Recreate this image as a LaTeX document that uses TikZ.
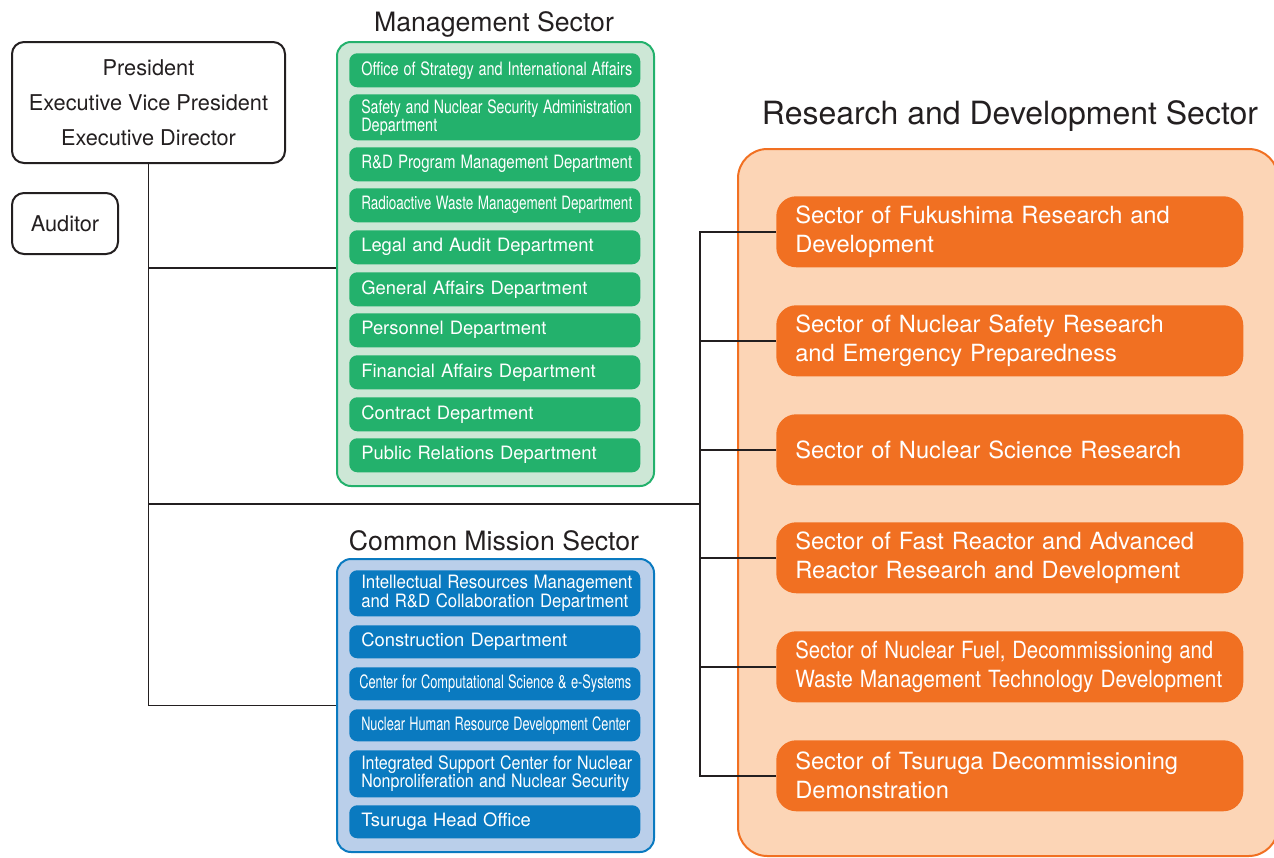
\documentclass[tikz,border=0pt]{standalone}
\usepackage{fontspec}
\setmainfont{TeX Gyre Heros}
\usepackage{graphicx}
\newlength\fitdim
\newcommand\fitw[2]{\setlength\fitdim{#1pt}\setlength\fitdim{0.75\fitdim}\makebox[0pt][l]{\resizebox{\fitdim}{\height}{#2}}}
\definecolor{mgreen}{RGB}{35,177,108}
\definecolor{mgreenbg}{RGB}{205,231,214}
\definecolor{mblue}{RGB}{10,122,192}
\definecolor{mbluebg}{RGB}{186,207,234}
\definecolor{morange}{RGB}{241,112,34}
\definecolor{morangebg}{RGB}{252,213,182}
\definecolor{ink}{RGB}{35,31,32}
\tikzset{
  conn/.style={draw=ink, line width=1.4pt},
  sector/.style={anchor=north west, line width=1.5pt, inner sep=0pt},
  title/.style={anchor=base, text=ink, font=\fontsize{20}{24}\selectfont},
  execbox/.style={anchor=north west, draw=ink, line width=1.5pt, rounded corners=9pt, inner sep=0pt, align=center, text=ink},
  inner/.style={anchor=north west, rounded corners=6pt, text=white, inner xsep=9pt, inner ysep=0pt,
    text width=200.25pt, align=left, font=\fontsize{13.8}{14}\selectfont},
  gbox/.style={inner, fill=mgreen},
  bbox/.style={inner, fill=mblue},
  obox/.style={anchor=north west, fill=morange, rounded corners=15pt, text=white, inner xsep=14.25pt, inner ysep=0pt,
    text width=321.75pt, minimum height=53.25pt, align=left, font=\fontsize{17.75}{21.75}\selectfont},
}
\begin{document}
\begin{tikzpicture}[x=0.75pt,y=-0.75pt]
\useasboundingbox (0,0) rectangle (1274,857);

% sector frames
\node[sector, draw=mgreen, fill=mgreenbg, rounded corners=10.5pt, minimum width=237.75pt, minimum height=333pt] (mgmt) at (336,41) {};
\node[sector, draw=mblue, fill=mbluebg, rounded corners=10.5pt, minimum width=237.75pt, minimum height=219.75pt] (cms) at (336,558) {};
\node[sector, draw=morange, fill=morangebg, rounded corners=22pt, minimum width=405pt, minimum height=530.25pt] (rd) at (737,148) {};

% titles
\node[title] (mgmtT) at (494,31) {Management Sector};
\node[title] (cmsT) at (494,550) {Common Mission Sector};
\node[title, font=\fontsize{24}{28}\selectfont] (rdT) at (1010,124) {Research and Development Sector};

% executives
\node[execbox, minimum width=204.75pt, minimum height=90.75pt, font=\fontsize{16.3}{26.25}\selectfont] (pres) at (11,41)
  {President\\Executive Vice President\\Executive Director};
\node[execbox, minimum width=79.5pt, minimum height=45.75pt, font=\fontsize{16.3}{20}\selectfont] (aud) at (11,192) {Auditor};

% management departments
\node[gbox, minimum height=25.5pt] (m1) at (349,53) {\fitw{271}{Office of Strategy and International Affairs}};
\node[gbox, minimum height=34.5pt, font=\fontsize{13.8}{13.5}\selectfont] (m2) at (349,94) {\fitw{271}{Safety and Nuclear Security Administration}\\\fitw{76}{Department}};
\node[gbox, minimum height=25.5pt] (m3) at (349,147) {\fitw{271}{R\&D Program Management Department}};
\node[gbox, minimum height=25.5pt] (m4) at (349,188) {\fitw{271}{Radioactive Waste Management Department}};
\node[gbox, minimum height=25.5pt] (m5) at (349,230) {Legal and Audit Department};
\node[gbox, minimum height=25.5pt] (m6) at (349,272) {General Affairs Department};
\node[gbox, minimum height=25.5pt] (m7) at (349,313) {Personnel Department};
\node[gbox, minimum height=25.5pt] (m8) at (349,355) {Financial Affairs Department};
\node[gbox, minimum height=25.5pt] (m9) at (349,397) {Contract Department};
\node[gbox, minimum height=25.5pt] (m10) at (349,438) {Public Relations Department};

% common mission departments
\node[bbox, minimum height=34.5pt] (c1) at (349,570) {\fitw{271}{Intellectual Resources Management}\\\fitw{267}{and R\&D Collaboration Department}};
\node[bbox, minimum height=24.75pt] (c2) at (349,625) {Construction Department};
\node[bbox, minimum height=24.75pt] (c3) at (349,667) {\hspace*{-1.5pt}\fitw{272}{Center for Computational Science \& e-Systems}};
\node[bbox, minimum height=24pt] (c4) at (349,709) {\fitw{269}{Nuclear Human Resource Development Center}};
\node[bbox, minimum height=35.25pt] (c5) at (349,750) {\fitw{271}{Integrated Support Center for Nuclear}\\\fitw{268}{Nonproliferation and Nuclear Security}};
\node[bbox, minimum height=24.75pt] (c6) at (349,805) {Tsuruga Head Office};

% R&D sectors
\node[obox] (r1) at (776,196) {Sector of Fukushima Research and\\Development};
\node[obox] (r2) at (776,305) {Sector of Nuclear Safety Research\\and Emergency Preparedness};
\node[obox] (r3) at (776,414) {Sector of Nuclear Science Research};
\node[obox] (r4) at (776,522) {Sector of Fast Reactor and Advanced\\Reactor Research and Development};
\node[obox] (r5) at (776,631) {\fitw{418}{Sector of Nuclear Fuel, Decommissioning and}\\\fitw{427}{Waste Management Technology Development}};
\node[obox] (r6) at (776,740) {Sector of Tsuruga Decommissioning\\Demonstration};

% connectors
\coordinate (bus) at (700,504);
\draw[conn] (pres.south) |- (cms.west);
\draw[conn] (pres.south |- 0,268) -- (mgmt.west |- 0,268);
\draw[conn] (pres.south |- bus) -- (bus);
\draw[conn] (r1.west) -| (bus);
\draw[conn] (r6.west) -| (bus);
\draw[conn] (r2.west) -- (bus |- r2.west);
\draw[conn] (r3.west) -- (bus |- r3.west);
\draw[conn] (r4.west) -- (bus |- r4.west);
\draw[conn] (r5.west) -- (bus |- r5.west);
\end{tikzpicture}
\end{document}
